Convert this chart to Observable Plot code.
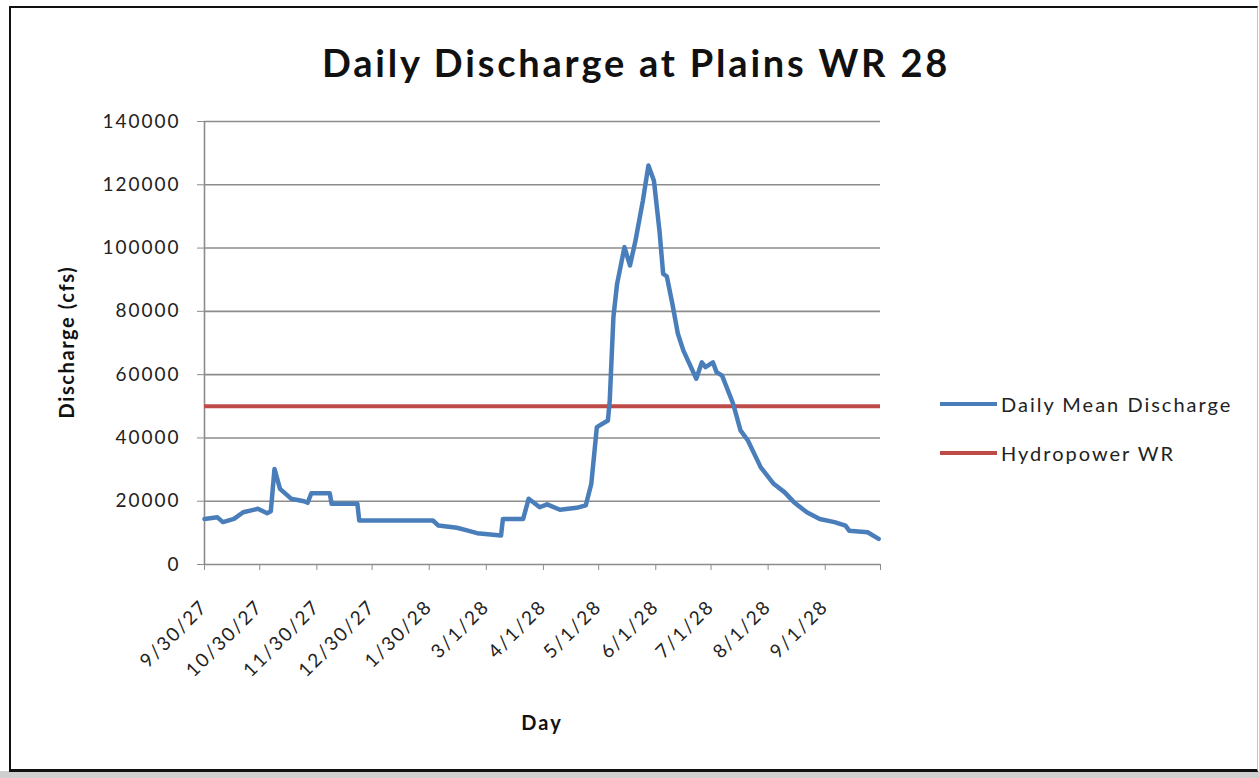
<!DOCTYPE html>
<html>
<head>
<meta charset="utf-8">
<script src="https://cdn.jsdelivr.net/npm/d3@7"></script>
<script src="https://cdn.jsdelivr.net/npm/@observablehq/plot@0.6"></script>
<style>
  html, body { margin: 0; padding: 0; background: #fff; }
  #wrap { position: relative; width: 1259px; height: 778px; overflow: hidden; font-family: Lato, "Open Sans", sans-serif; color: #111; }
  #shadow { position: absolute; left: 0; top: 771px; width: 1259px; height: 7px; background: #cfcfcf; }
  #frame { position: absolute; left: 9px; top: 6px; width: 1246px; height: 761px; border-left: 2px solid #111; border-top: 2px solid #111; border-bottom: 3px solid #111; border-right: 1px solid #c4c4c4; background: #fff; }
  #chart { position: absolute; left: 0; top: 0; }
  .abs { position: absolute; white-space: nowrap; }
  #title { left: 636px; top: 43px; transform: translateX(-50%); font-size: 38px; letter-spacing: 2.8px; font-weight: 700; line-height: 1; }
  #ylab { left: 66px; top: 342px; transform: translate(-50%, -50%) rotate(-90deg); font-size: 20px; letter-spacing: 1.6px; font-weight: 700; line-height: 1; }
  #xlab { left: 542px; top: 722px; transform: translate(-50%, -50%); font-size: 20px; letter-spacing: 2px; font-weight: 700; line-height: 1; }
  .leg { position: absolute; left: 940px; display: flex; align-items: center; font-size: 20px; letter-spacing: 2px; line-height: 1; color: #222; }
  .leg .sw { width: 57px; height: 4px; margin-right: 4px; }
  #chart svg text { letter-spacing: 2px; }
</style>
</head>
<body>
<div id="wrap">
  <div id="shadow"></div>
  <div id="frame"></div>
  <div id="chart"></div>
  <div id="title" class="abs">Daily Discharge at Plains WR 28</div>
  <div id="ylab" class="abs">Discharge (cfs)</div>
  <div id="xlab" class="abs">Day</div>
  <div class="leg" style="top:394px"><span class="sw" id="sw1"></span><span id="lt1"></span></div>
  <div class="leg" style="top:443px"><span class="sw" id="sw2"></span><span id="lt2"></span></div>
</div>
<script>
// ---- data ----
const seriesNames = ["Daily Mean Discharge", "Hydropower WR"];
const seriesColors = ["#4a7ebb", "#be4b48"];

const dischargeDates = [
  "1927-09-30","1927-10-07","1927-10-10","1927-10-16","1927-10-21","1927-10-29",
  "1927-11-03","1927-11-05","1927-11-07","1927-11-10","1927-11-16","1927-11-23",
  "1927-11-25","1927-11-27","1927-12-07","1927-12-08","1927-12-22","1927-12-23",
  "1928-02-01","1928-02-04","1928-02-14","1928-02-20","1928-02-25","1928-03-09",
  "1928-03-10","1928-03-21","1928-03-24","1928-03-30","1928-04-03","1928-04-10",
  "1928-04-19","1928-04-24","1928-04-27","1928-04-30","1928-05-06","1928-05-07",
  "1928-05-09","1928-05-11","1928-05-15","1928-05-18","1928-05-21","1928-05-25",
  "1928-05-28","1928-05-31","1928-06-03","1928-06-05","1928-06-07","1928-06-10",
  "1928-06-13","1928-06-16","1928-06-23","1928-06-26","1928-06-28","1928-07-02",
  "1928-07-04","1928-07-07","1928-07-13","1928-07-17","1928-07-21","1928-07-28",
  "1928-08-04","1928-08-10","1928-08-15","1928-08-22","1928-08-29","1928-09-06",
  "1928-09-12","1928-09-14","1928-09-24","1928-09-30"
];
const dischargeValues = [
  14400, 14900, 13400, 14400, 16500, 17600,
  16200, 16800, 30200, 23900, 20800, 20000,
  19500, 22500, 22500, 19200, 19200, 13900,
  13900, 12300, 11600, 10700, 9900, 9200,
  14400, 14400, 20800, 18100, 19000, 17300,
  17900, 18700, 25500, 43400, 45500, 51800,
  78200, 88700, 100300, 94500, 102400, 115000,
  126100, 121300, 105500, 91900, 91000, 82400,
  72900, 67600, 58700, 63900, 62400, 63900,
  60800, 59700, 50800, 42400, 39200, 30700,
  25500, 22800, 19700, 16500, 14400, 13400,
  12300, 10700, 10200, 8100
];
const hydropowerWR = 50000;

const xTickDates = ["1927-09-30","1927-10-30","1927-11-30","1927-12-30","1928-01-30","1928-03-01",
  "1928-04-01","1928-05-01","1928-06-01","1928-07-01","1928-08-01","1928-09-01","1928-10-01"];
const xTickLabels = ["9/30/27","10/30/27","11/30/27","12/30/27","1/30/28","3/1/28",
  "4/1/28","5/1/28","6/1/28","7/1/28","8/1/28","9/1/28",""];
const yTicks = [0, 20000, 40000, 60000, 80000, 100000, 120000, 140000];

// ---- build ----
const parse = d3.utcParse("%Y-%m-%d");
const data = dischargeDates.map((d, i) => ({date: parse(d), value: dischargeValues[i]}));
const tickDates = xTickDates.map(parse);

document.getElementById("sw1").style.background = seriesColors[0];
document.getElementById("sw2").style.background = seriesColors[1];
document.getElementById("lt1").textContent = seriesNames[0];
document.getElementById("lt2").textContent = seriesNames[1];

const chart = Plot.plot({
  width: 1259,
  height: 778,
  marginLeft: 204,
  marginRight: 379,
  marginTop: 121,
  marginBottom: 214,
  style: {background: "transparent", fontFamily: "Lato, 'Open Sans', sans-serif", color: "#222", overflow: "visible"},
  x: {type: "utc", domain: [tickDates[0], tickDates[tickDates.length - 1]]},
  y: {domain: [0, 140000]},
  marks: [
    Plot.gridY(yTicks.slice(1), {stroke: "#8c8c8c", strokeOpacity: 1, strokeWidth: 1.6}),
    Plot.ruleX([tickDates[0]], {stroke: "#8c8c8c", strokeWidth: 1.6}),
    Plot.ruleY([0], {stroke: "#8c8c8c", strokeWidth: 1.6}),
    Plot.axisY({ticks: yTicks, tickSize: 7, tickPadding: 17, fontSize: 19, stroke: "#8c8c8c", fill: "#222", label: null, tickFormat: d => String(d)}),
    Plot.axisX({ticks: tickDates, tickSize: 6, tickPadding: 33, tickRotate: -45, fontSize: 19, stroke: "#8c8c8c", fill: "#222", label: null,
      tickFormat: (d, i) => xTickLabels[i]}),
    Plot.ruleY([hydropowerWR], {stroke: seriesColors[1], strokeWidth: 4}),
    Plot.line(data, {x: "date", y: "value", stroke: seriesColors[0], strokeWidth: 4.5, strokeLinejoin: "round", strokeLinecap: "round"})
  ]
});
document.getElementById("chart").appendChild(chart);
</script>
</body>
</html>
